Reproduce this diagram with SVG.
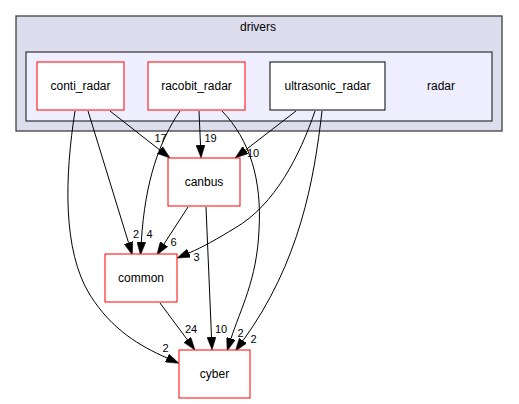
<svg xmlns="http://www.w3.org/2000/svg" width="519" height="404" viewBox="0 0 519 404">
  <style>
    text { font-family: "Liberation Sans", Arial, Helvetica, sans-serif; font-size: 12px; fill: #000; text-anchor: middle; }
    .cluster-outer { fill: #ddddee; stroke: #404040; stroke-width: 1.3; }
    .cluster-inner { fill: #eeeeff; stroke: #404040; stroke-width: 1.3; }
    .node { fill: #ffffff; stroke: #ff0000; stroke-width: 1; }
    .node-plain { fill: #ffffff; stroke: #000000; stroke-width: 1; }
    .edge { fill: none; stroke: #000000; stroke-width: 1; marker-end: url(#arrow); }
    .elabel { font-size: 11px; }
  </style>
  <defs>
    <marker id="arrow" viewBox="0 0 13 9" refX="0" refY="4.5" markerWidth="13" markerHeight="9" markerUnits="userSpaceOnUse" orient="auto">
      <path d="M0,0 L13,4.5 L0,9 z" fill="#000" stroke="#000" stroke-width="0.5"/>
    </marker>
  </defs>

  <rect width="519" height="404" fill="#ffffff"/>

  <!-- directory clusters -->
  <g id="cluster_drivers">
    <rect class="cluster-outer" x="16" y="16" width="486" height="115"/>
    <text x="258" y="31">drivers</text>
  </g>
  <g id="cluster_radar">
    <rect class="cluster-inner" x="26" y="52" width="466" height="69"/>
    <text x="441" y="90">radar</text>
  </g>

  <!-- connectors -->
  <g id="edges">
    <path class="edge" d="M110,111 L159.8,150"/>
    <text class="elabel" x="160.5" y="142">17</text>

    <path class="edge" d="M199,111 L200.5,145"/>
    <text class="elabel" x="210.5" y="142">19</text>

    <path class="edge" d="M296,111 L245.5,150"/>
    <text class="elabel" x="253" y="157">10</text>

    <path class="edge" d="M88,111 L128.5,242.6"/>
    <text class="elabel" x="136" y="238">2</text>

    <path class="edge" d="M180,111 C160,140 145,180 141.3,242"/>
    <text class="elabel" x="149.5" y="238">4</text>

    <path class="edge" d="M188,207 L164,244"/>
    <text class="elabel" x="173.5" y="246">6</text>

    <path class="edge" d="M315,111 C300,155 275,205 235,228 C217,239 203,247 189,253"/>
    <text class="elabel" x="196.5" y="261">3</text>

    <path class="edge" d="M75,111 C65,175 62,250 90,295 C112,330 140,346 167,358"/>
    <text class="elabel" x="165.5" y="352">2</text>

    <path class="edge" d="M222,111 C250,140 262,180 259,230 C257,280 240,310 231,338.6"/>
    <text class="elabel" x="240.5" y="337">2</text>

    <path class="edge" d="M322,111 C314,180 300,262 243,340.6"/>
    <text class="elabel" x="253.5" y="343">2</text>

    <path class="edge" d="M206,207 L211.5,337"/>
    <text class="elabel" x="221" y="333">10</text>

    <path class="edge" d="M160,303 L187.2,339.6"/>
    <text class="elabel" x="191" y="333">24</text>
  </g>

  <!-- nodes -->
  <g id="node_conti_radar">
    <rect class="node" x="37" y="62" width="87" height="48"/>
    <text x="80.5" y="90">conti_radar</text>
  </g>
  <g id="node_racobit_radar">
    <rect class="node" x="148" y="62" width="97" height="48"/>
    <text x="196.5" y="90">racobit_radar</text>
  </g>
  <g id="node_ultrasonic_radar">
    <rect class="node-plain" x="270" y="62" width="115" height="48"/>
    <text x="327.5" y="90">ultrasonic_radar</text>
  </g>
  <g id="node_canbus">
    <rect class="node" x="168" y="158" width="72" height="48"/>
    <text x="204" y="186">canbus</text>
  </g>
  <g id="node_common">
    <rect class="node" x="105" y="254" width="72" height="48"/>
    <text x="141" y="282">common</text>
  </g>
  <g id="node_cyber">
    <rect class="node" x="179" y="350" width="71" height="48"/>
    <text x="214.5" y="378">cyber</text>
  </g>
</svg>
